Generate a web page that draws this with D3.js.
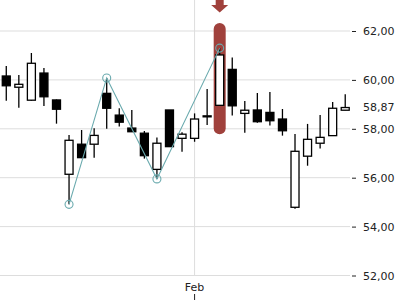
<!DOCTYPE html>
<html><head><meta charset="utf-8">
<script src="https://cdn.jsdelivr.net/npm/d3@7"></script>
<style>html,body{margin:0;padding:0;background:#fff;}svg{display:block;}</style>
</head><body>
<svg id="chart" width="400" height="300"></svg>
<script>
const dates = ["2024-01-11","2024-01-12","2024-01-15","2024-01-16","2024-01-17","2024-01-18","2024-01-19","2024-01-22","2024-01-23","2024-01-24","2024-01-25","2024-01-26","2024-01-29","2024-01-30","2024-01-31","2024-02-01","2024-02-02","2024-02-05","2024-02-06","2024-02-07","2024-02-08","2024-02-09","2024-02-12","2024-02-13","2024-02-14","2024-02-15","2024-02-16","2024-02-20"];
const open  = [60.16,59.70,59.17,60.28,59.18,56.14,57.37,57.37,59.45,58.56,58.03,57.82,56.34,58.77,57.61,57.61,58.52,58.96,60.43,58.63,58.77,58.67,58.40,54.79,56.88,57.41,57.72,58.76];
const high  = [60.57,60.20,61.10,60.49,59.20,57.75,57.95,58.02,60.08,58.84,58.77,57.91,57.64,58.77,57.86,58.63,59.63,61.30,60.92,59.14,59.46,59.51,58.81,57.79,58.20,58.56,59.10,59.41];
const low   = [59.15,58.86,59.15,58.93,58.21,54.91,56.80,56.82,58.00,58.09,57.87,56.78,55.95,57.27,57.06,57.47,58.16,58.96,58.54,57.84,58.25,58.13,57.72,54.73,56.49,57.19,57.72,58.76];
const close = [59.76,59.82,60.68,59.31,58.80,57.53,56.82,57.73,58.84,58.27,57.88,56.90,57.41,57.27,57.78,58.40,58.53,61.02,58.94,58.76,58.29,58.33,57.92,57.08,57.57,57.65,58.84,58.87];
const yTicks = [52,54,56,58,60,62];
const zigzag = [{i:5,v:54.91},{i:8,v:60.08},{i:12,v:55.95},{i:17,v:61.30}];
const highlightIndex = 17;
const monthTicks = ["2024-02-01"];
const monthLabels = ["Feb"];
const lastValue = 58.87;

const svg = d3.select("#chart");
const x = d3.scaleBand().domain(dates).range([0, 351.5]);
const y = d3.scaleLinear().domain([52, 62]).range([275.5, 31]);
const cx = i => x(dates[i]) + x.bandwidth()/2;
const loc = d3.formatLocale({decimal: ",", thousands: ".", grouping: [3], currency: ["", "€"]});
const fmt = loc.format(".2f");

// grid
svg.append("g").selectAll("line").data(yTicks).join("line")
  .attr("x1", 0).attr("x2", 350).attr("y1", d => y(d)).attr("y2", d => y(d))
  .attr("stroke", "#dddddd").attr("stroke-width", 1);
svg.append("g").selectAll("line").data(monthTicks).join("line")
  .attr("x1", d => x(d) + x.bandwidth()/2).attr("x2", d => x(d) + x.bandwidth()/2)
  .attr("y1", 0).attr("y2", 276)
  .attr("stroke", "#dddddd").attr("stroke-width", 1);

// y axis
const yAxis = d3.axisRight(y).tickValues(yTicks).tickSize(4).tickPadding(7).tickFormat(d => fmt(d));
const ya = svg.append("g").attr("transform", "translate(352,0)").call(yAxis);
ya.select(".domain").remove();
ya.selectAll("text").attr("font-family", "DejaVu Sans").attr("font-size", 11).attr("fill", "#222");
ya.selectAll("line").attr("stroke", "#222");

// x axis
const xAxis = d3.axisTop(x).tickValues(monthTicks).tickSize(6).tickPadding(3).tickFormat((d,i) => monthLabels[i]);
const xa = svg.append("g").attr("transform", "translate(0,300)").call(xAxis);
xa.select(".domain").remove();
xa.selectAll("text").attr("font-family", "DejaVu Sans").attr("font-size", 11).attr("fill", "#222");
xa.selectAll("line").attr("stroke", "#222");

// highlight
const hx = cx(highlightIndex);
svg.append("rect")
  .attr("x", hx - 6).attr("width", 12)
  .attr("y", y(high[highlightIndex]) - 25).attr("height", y(low[highlightIndex]) - y(high[highlightIndex]) + 54)
  .attr("rx", 6).attr("fill", "#a0413c");
svg.append("path")
  .attr("d", `M${hx-4},0 L${hx+4},0 L${hx+4},5 L${hx+8.5},5 L${hx},12.5 L${hx-8.5},5 L${hx-4},5 Z`)
  .attr("fill", "#a0413c");

// candles
const idx = d3.range(dates.length);
const bw = 8;
const g = svg.append("g");
g.selectAll("line.wick").data(idx).join("line").attr("class","wick")
  .attr("x1", i => cx(i)).attr("x2", i => cx(i))
  .attr("y1", i => y(high[i])).attr("y2", i => y(low[i]))
  .attr("stroke", "#000").attr("stroke-width", 1.3);
g.selectAll("rect.body").data(idx).join("rect").attr("class","body")
  .attr("x", i => cx(i) - bw/2).attr("width", bw)
  .attr("y", i => y(Math.max(open[i], close[i])))
  .attr("height", i => Math.max(1, Math.abs(y(open[i]) - y(close[i]))))
  .attr("fill", i => close[i] >= open[i] ? "#fff" : "#000")
  .attr("stroke", "#000").attr("stroke-width", 1.3);

// zigzag
const lineGen = d3.line().x(d => cx(d.i)).y(d => y(d.v));
svg.append("path").datum(zigzag).attr("d", lineGen)
  .attr("fill", "none").attr("stroke", "#6aaaae").attr("stroke-width", 1.1);
svg.append("g").selectAll("circle").data(zigzag).join("circle")
  .attr("cx", d => cx(d.i)).attr("cy", d => y(d.v)).attr("r", 4)
  .attr("fill", "none").attr("stroke", "#6aaaae").attr("stroke-width", 1.1);

// last value label
svg.append("text").attr("x", 363).attr("y", y(lastValue)).attr("dy", "0.35em")
  .attr("font-family", "DejaVu Sans").attr("font-size", 11).attr("fill", "#222")
  .text(fmt(lastValue));
</script>
</body></html>
